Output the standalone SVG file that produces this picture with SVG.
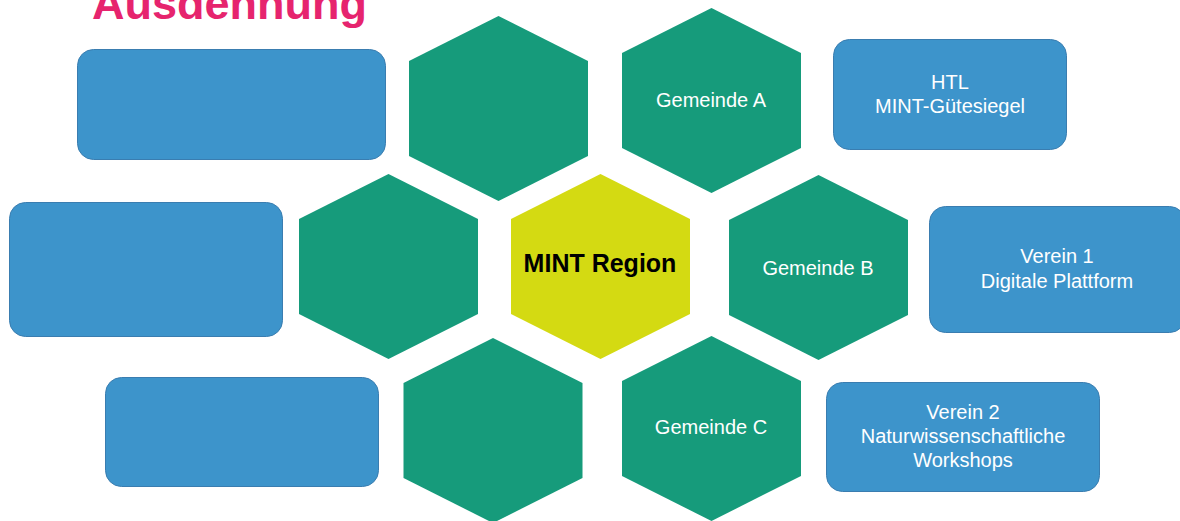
<svg xmlns="http://www.w3.org/2000/svg" width="1180" height="521" viewBox="0 0 1180 521">
<style>
.hex{fill:#169B7B}
.core{fill:#D4DA12}
.box{fill:#3D94CB;stroke:#3A7DB0;stroke-width:1}
.lbl{font-family:"Liberation Sans",Arial,sans-serif;font-size:20px;fill:#FFFFFF;text-anchor:middle}
.main{font-family:"Liberation Sans",Arial,sans-serif;font-size:25px;font-weight:bold;fill:#000000;text-anchor:middle}
.title{font-family:"Liberation Sans",Arial,sans-serif;font-size:45px;font-weight:bold;fill:#E6246E}
</style>
<defs>
<polygon id="hexshape" points="0,-92.5 89.5,-47.5 89.5,47.5 0,92.5 -89.5,47.5 -89.5,-47.5"/>
</defs>
<rect width="1180" height="521" fill="#FFFFFF"/>
<text class="title" x="92" y="19">Ausdehnung</text>
<g id="hex-top-left"><use href="#hexshape" class="hex" transform="translate(498.5,108.5)"/></g>
<g id="hex-gemeinde-a"><use href="#hexshape" class="hex" transform="translate(711.5,100.5)"/><text class="lbl" x="711" y="107">Gemeinde A</text></g>
<g id="hex-mid-left"><use href="#hexshape" class="hex" transform="translate(388.5,266.5)"/></g>
<g id="hex-mint-region"><use href="#hexshape" class="core" transform="translate(600.5,266.5)"/><text class="main" x="600" y="272">MINT Region</text></g>
<g id="hex-gemeinde-b"><use href="#hexshape" class="hex" transform="translate(818.5,267.5)"/><text class="lbl" x="818" y="275">Gemeinde B</text></g>
<g id="hex-bottom-left"><use href="#hexshape" class="hex" transform="translate(493,430.5)"/></g>
<g id="hex-gemeinde-c"><use href="#hexshape" class="hex" transform="translate(711.5,428.5)"/><text class="lbl" x="711" y="434">Gemeinde C</text></g>
<g id="box-top-left"><rect class="box" x="77.5" y="49.5" width="308" height="110" rx="16"/></g>
<g id="box-mid-left"><rect class="box" x="9.5" y="202.5" width="273" height="134" rx="16"/></g>
<g id="box-bottom-left"><rect class="box" x="105.5" y="377.5" width="273" height="109" rx="16"/></g>
<g id="box-htl"><rect class="box" x="833.5" y="39.5" width="233" height="110" rx="16"/><text class="lbl" x="950" y="89">HTL</text><text class="lbl" x="950" y="113">MINT-Gütesiegel</text></g>
<g id="box-verein-1"><rect class="box" x="929.5" y="206.5" width="256" height="126" rx="16"/><text class="lbl" x="1057" y="263">Verein 1</text><text class="lbl" x="1057" y="288">Digitale Plattform</text></g>
<g id="box-verein-2"><rect class="box" x="826.5" y="382.5" width="273" height="109" rx="16"/><text class="lbl" x="963" y="419">Verein 2</text><text class="lbl" x="963" y="443">Naturwissenschaftliche</text><text class="lbl" x="963" y="467">Workshops</text></g>
<g id="connectors"/>
</svg>
